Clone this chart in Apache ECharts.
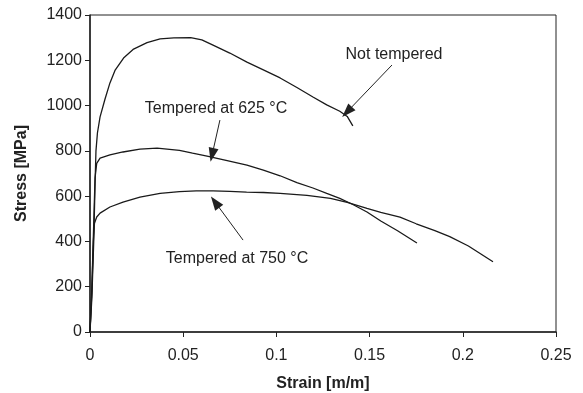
<!DOCTYPE html>
<html>
<head>
<meta charset="utf-8">
<script src="https://cdn.jsdelivr.net/npm/echarts@6/dist/echarts.min.js"></script>
<style>
html,body{margin:0;padding:0;background:#fff;}
#chart{width:583px;height:393px;}
</style>
</head>
<body>
<div id="chart"></div>
<script>
// ---- data (strain [m/m], stress [MPa]) ----
const notTempered = [[0,0],[0.001,150],[0.002,400],[0.0027,650],[0.0032,800],[0.004,880],[0.0054,950],[0.0081,1030],[0.0107,1100],[0.0134,1155],[0.018,1210],[0.0231,1248],[0.0306,1278],[0.0376,1295],[0.045,1299],[0.054,1300],[0.060,1290],[0.066,1267],[0.075,1232],[0.0842,1192],[0.093,1158],[0.102,1122],[0.111,1080],[0.1196,1038],[0.127,1003],[0.134,975],[0.138,952],[0.141,910]];
const tempered625 = [[0,0],[0.001,200],[0.002,480],[0.0027,680],[0.0036,745],[0.0054,768],[0.0107,782],[0.0177,795],[0.0268,808],[0.036,812],[0.048,802],[0.055,790],[0.0628,777],[0.073,758],[0.0842,737],[0.093,715],[0.102,690],[0.111,660],[0.1196,636],[0.127,612],[0.134,590],[0.141,563],[0.1486,530],[0.156,490],[0.165,447],[0.1754,393]];
const tempered750 = [[0,0],[0.001,180],[0.0018,400],[0.0024,480],[0.0036,508],[0.0054,525],[0.0107,552],[0.0177,574],[0.0268,596],[0.0376,612],[0.048,620],[0.057,623],[0.066,623],[0.075,621],[0.084,618],[0.093,616],[0.102,612],[0.1164,603],[0.129,590],[0.138,572],[0.1486,546],[0.156,528],[0.1663,507],[0.175,478],[0.185,448],[0.193,421],[0.203,380],[0.2162,310]];
const seriesNames = ['Not tempered', 'Tempered at 625 °C', 'Tempered at 750 °C'];
// annotation label anchors and arrows [tail, tip] in data coords
const labelPos = [[0.1631,1223],[0.0676,985],[0.0789,322]];
const arrows = [[[0.1620,1179],[0.1379,972]], [[0.0697,936],[0.0655,782]], [[0.0821,406],[0.0671,574]]];
const xTicks = [0, 0.05, 0.1, 0.15, 0.2, 0.25];
const yTicks = [0, 200, 400, 600, 800, 1000, 1200, 1400];
const xName = 'Strain [m/m]';
const yName = 'Stress [MPa]';

const FONT = '"Liberation Sans", Arial, sans-serif';
const TXT = '#222';
const dataSets = [notTempered, tempered625, tempered750];

const chart = echarts.init(document.getElementById('chart'), null, {renderer:'canvas'});
chart.setOption({
  animation: false,
  backgroundColor: '#fff',
  grid: {left: 90, right: 27, top: 15, bottom: 61, show: true, borderColor: '#222', borderWidth: 1, containLabel: false, outerBoundsMode: 'none'},
  xAxis: {
    type: 'value', min: xTicks[0], max: xTicks[xTicks.length-1], interval: xTicks[1]-xTicks[0],
    name: xName, nameLocation: 'middle', nameGap: 44,
    nameTextStyle: {fontFamily: FONT, fontSize: 16, fontWeight: 'bold', color: TXT},
    axisLine: {show: true, lineStyle: {color: '#222', width: 1.5}},
    axisTick: {show: true, inside: false, length: 5, lineStyle: {color: '#222'}},
    axisLabel: {fontFamily: FONT, fontSize: 16, color: TXT, margin: 16, formatter: v => String(v)},
    splitLine: {show: false}
  },
  yAxis: {
    type: 'value', min: yTicks[0], max: yTicks[yTicks.length-1], interval: yTicks[1]-yTicks[0],
    name: yName, nameLocation: 'middle', nameGap: 60, nameRotate: 90,
    nameTextStyle: {fontFamily: FONT, fontSize: 16, fontWeight: 'bold', color: TXT},
    axisLine: {show: true, lineStyle: {color: '#222', width: 1.5}},
    axisTick: {show: true, inside: false, length: 5, lineStyle: {color: '#222'}},
    axisLabel: {fontFamily: FONT, fontSize: 16, color: TXT, margin: 8, formatter: v => String(v)},
    splitLine: {show: false}
  },
  series: dataSets.map((d, i) => ({
    type: 'line', name: seriesNames[i], data: d, showSymbol: false, symbol: 'none',
    lineStyle: {color: '#1a1a1a', width: 1.3}, silent: true,
    markLine: {
      silent: true, animation: false,
      symbol: ['none', 'triangle'], symbolSize: [10, 14],
      lineStyle: {color: '#222', width: 1, type: 'solid'},
      label: {show: false},
      data: [[{coord: arrows[i][0], symbol: 'none'}, {coord: arrows[i][1], symbol: 'triangle', symbolSize: [10, 14]}]]
    },
    markPoint: {
      silent: true, animation: false,
      symbol: 'rect', symbolSize: 1, itemStyle: {color: 'rgba(0,0,0,0)'},
      label: {show: true, position: 'inside', formatter: seriesNames[i], fontFamily: FONT, fontSize: 16, color: TXT},
      data: [{coord: labelPos[i]}]
    }
  }))
});
</script>
</body>
</html>
